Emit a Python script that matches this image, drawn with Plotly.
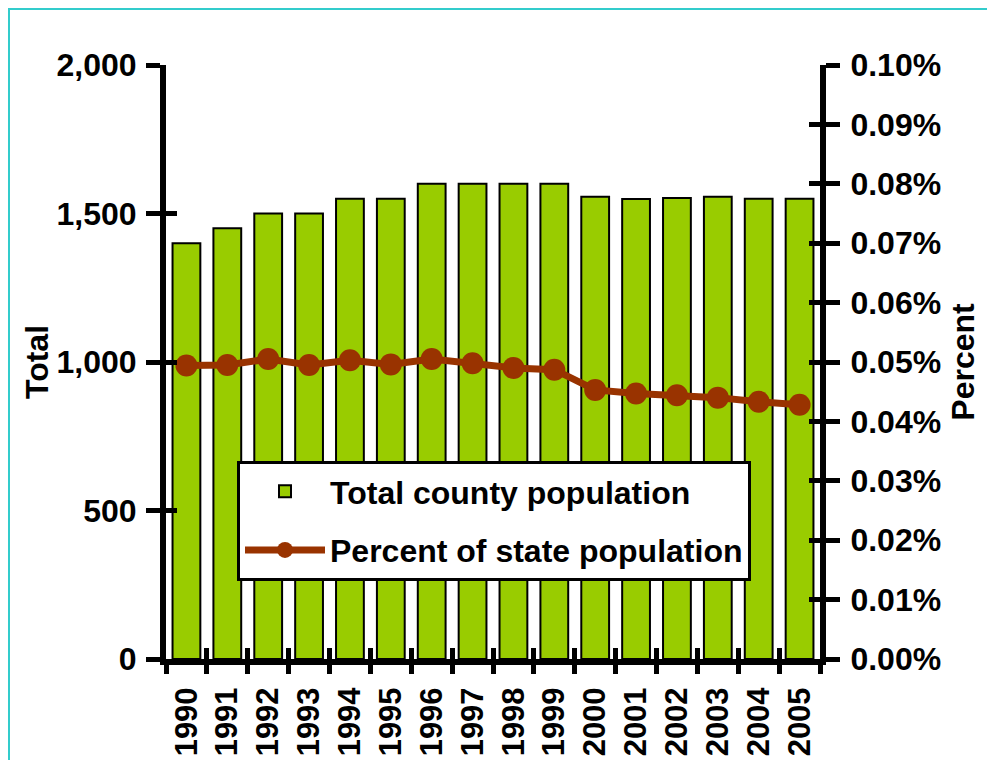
import plotly.graph_objects as go

years = list(range(1990, 2006))
year_labels = [str(y) for y in years]
total_population = [1400, 1450, 1500, 1500, 1550, 1550, 1600, 1600, 1600, 1600,
                    1556, 1549, 1552, 1556, 1550, 1550]
percent_of_state = [0.000494, 0.000495, 0.000505, 0.000495, 0.000503, 0.000496,
                    0.000505, 0.000498, 0.000490, 0.000487, 0.000453, 0.000447,
                    0.000444, 0.000440, 0.000433, 0.000428]

FAM = "Liberation Sans, Arial, sans-serif"
FONT = dict(family=FAM, size=32, color="black", weight="bold")
XFONT = dict(family=FAM, size=31, color="black", weight="bold")

# page has an 8px body margin; figure fits inside the 995x768 window
W, H = 979, 752
L, R, T, B = 158, 167, 57, 101
pw, ph = W - L - R, H - T - B


def px_x(p):
    return (p - 8 - L) / pw


def px_y(p):
    return (H - B - (p - 8)) / ph


fig = go.Figure()
fig.add_trace(go.Bar(
    x=years, y=total_population, name="Total county population",
    marker=dict(color="#99CC00", line=dict(color="black", width=2)),
    xaxis="x", yaxis="y", legendgroup="a",
))
fig.add_trace(go.Scatter(
    x=years, y=percent_of_state, name="Percent of state population",
    mode="lines+markers",
    line=dict(color="#993300", width=7),
    marker=dict(color="#993300", size=22),
    xaxis="x", yaxis="y2", legendgroup="b",
))
# empty helper traces so the tick-only overlay axes get drawn
fig.add_trace(go.Scatter(x=[], y=[], xaxis="x2", yaxis="y3",
                         showlegend=False, hoverinfo="skip"))
fig.add_trace(go.Scatter(x=[], y=[], xaxis="x3", yaxis="y4",
                         showlegend=False, hoverinfo="skip"))

xr = [years[0] - 0.5, years[-1] + 0.5]
OUT = dict(ticklen=14, tickwidth=5, tickcolor="black")
INN = dict(ticklen=11, tickwidth=5, tickcolor="black")
NOAX = dict(showgrid=False, zeroline=False, automargin=False)

fx0, fy0, fx1, fy1 = px_x(8.5), px_y(8.5), px_x(1010), px_y(767)
frame_path = f"M {fx1},{fy0} L {fx0},{fy0} L {fx0},{fy1}"

fig.update_layout(
    width=W, height=H,
    margin=dict(l=L, r=R, t=T, b=B, autoexpand=False),
    paper_bgcolor="white", plot_bgcolor="white",
    font=FONT,
    bargap=0.32,
    showlegend=True,
    legend=dict(
        x=px_x(237), y=px_y(461), xanchor="left", yanchor="top",
        bgcolor="white", bordercolor="black", borderwidth=3,
        font=FONT, itemwidth=80, tracegroupgap=14, traceorder="grouped",
    ),
    xaxis=dict(
        range=xr, tickvals=years, ticktext=year_labels, ticks="",
        tickangle=-90, tickfont=XFONT, showline=True, linewidth=6,
        linecolor="black", ticklabelstandoff=10, **NOAX,
    ),
    xaxis2=dict(
        overlaying="x", anchor="y", side="bottom", range=xr,
        tickmode="linear", tick0=xr[0], dtick=1, ticks="outside",
        showticklabels=False, showline=False, **OUT, **NOAX,
    ),
    xaxis3=dict(
        overlaying="x", anchor="y", side="bottom", range=xr,
        tickmode="linear", tick0=xr[0], dtick=1, ticks="inside",
        showticklabels=False, showline=False, **INN, **NOAX,
    ),
    yaxis=dict(
        range=[0, 2000], dtick=500, tickformat=",", ticks="outside",
        showline=True, linewidth=6, linecolor="black",
        ticklabelstandoff=3,
        title=dict(text="Total", font=FONT, standoff=0),
        **OUT, **NOAX,
    ),
    yaxis3=dict(
        overlaying="y", anchor="x", side="left", range=[0, 2000], dtick=500,
        ticks="inside", showticklabels=False, showline=False, **INN, **NOAX,
    ),
    yaxis2=dict(
        overlaying="y", anchor="x", side="right", range=[0, 0.001],
        dtick=0.0001, tickformat=".2%", ticks="outside",
        showline=True, linewidth=6, linecolor="black",
        ticklabelstandoff=4,
        title=dict(text="Percent", font=FONT, standoff=13),
        **OUT, **NOAX,
    ),
    yaxis4=dict(
        overlaying="y", anchor="x", side="right", range=[0, 0.001],
        dtick=0.0001, ticks="inside", showticklabels=False, showline=False,
        **INN, **NOAX,
    ),
    shapes=[dict(
        type="path", xref="paper", yref="paper", layer="below",
        path=frame_path,
        line=dict(color="#33CCCC", width=3),
    )],
)

fig.write_html("out.html")
